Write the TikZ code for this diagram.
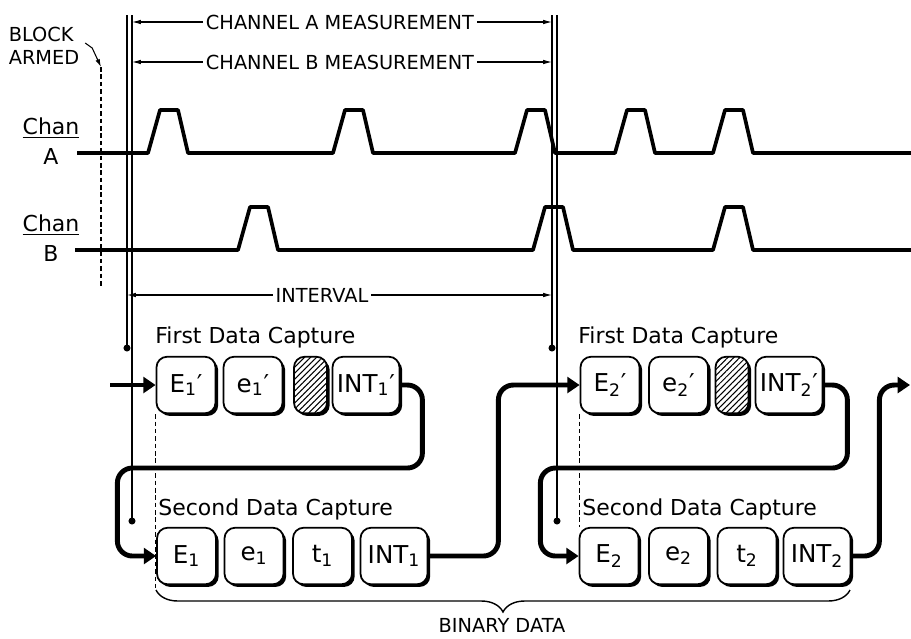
\documentclass[tikz,border=0pt]{standalone}
\usepackage{fontspec}
\setmainfont{DejaVu Sans}
\usetikzlibrary{arrows.meta,patterns.meta,shadows,decorations.pathreplacing}
\tikzset{
  keybox/.style   = {draw, line width=1pt, rounded corners=6pt, fill=white,
                     minimum width=11.8mm, minimum height=11.3mm, inner sep=0pt,
                     font=\fontsize{14}{16}\selectfont,
                     drop shadow={shadow xshift=1.5pt, shadow yshift=-1.5pt,
                                  fill=black, opacity=1}},
  intbox/.style   = {keybox, minimum width=13.4mm},
  hatchbox/.style = {keybox, minimum width=6.6mm,
                     postaction={pattern={Lines[angle=45,distance=2.4pt,line width=0.6pt]}}},
  caplbl/.style   = {font=\fontsize{12.5}{15}\selectfont, anchor=base west, inner sep=0pt},
  chanlbl/.style  = {font=\fontsize{12.5}{15}\selectfont, align=center, inner sep=0pt},
  measlbl/.style  = {font=\fontsize{11}{13}\selectfont, inner sep=1.5pt},
  signal/.style   = {line width=2.1pt, line join=round},
  flow/.style     = {line width=2.8pt, rounded corners=3mm,
                     -{Triangle[length=7pt,width=9pt]}},
  meas/.style     = {line width=0.6pt, -{Latex[length=5pt,width=2.6pt]}},
  guide/.style    = {line width=0.6pt},
  armdash/.style  = {line width=0.8pt, dash pattern=on 2.6pt off 1.6pt}
}

\begin{document}
\begin{tikzpicture}[x=0.2mm,y=-0.2mm]
  \useasboundingbox (0,0) rectangle (911,638);

  % guides of the two measurements
  \coordinate (v1) at (127,15); \coordinate (v1e) at (127,348);
  \coordinate (v2) at (132,15); \coordinate (v2e) at (132,521);
  \coordinate (v3) at (552,15); \coordinate (v3e) at (552,348);
  \coordinate (v4) at (557,15); \coordinate (v4e) at (557,521);
  \draw[guide] (v1) -- (v1e);
  \draw[guide] (v2) -- (v2e);
  \draw[guide] (v3) -- (v3e);
  \draw[guide] (v4) -- (v4e);
  \foreach \d in {v1e,v2e,v3e,v4e} \fill (\d) circle[radius=2pt];

  \node[measlbl] (chA)  at (340,22)  {CHANNEL A MEASUREMENT};
  \node[measlbl] (chB)  at (340,62)  {CHANNEL B MEASUREMENT};
  \node[measlbl] (intv) at (322,295) {INTERVAL};
  \draw[meas] (chA.west)  -- (chA.west -| v2);
  \draw[meas] (chA.east)  -- (chA.east -| v3);
  \draw[meas] (chB.west)  -- (chB.west -| v2);
  \draw[meas] (chB.east)  -- (chB.east -| v3);
  \draw[meas] (intv.west) -- (intv.west -| v1);
  \draw[meas] (intv.east) -- (intv.east -| v3);

  % block armed
  \node[measlbl, align=left, font=\fontsize{11}{13}\selectfont] (armed) at (44,46) {BLOCK\\ARMED};
  \coordinate (armtip) at (101,67);
  \coordinate (armend) at (101,288);
  \draw[line width=0.6pt, -{Latex[length=4.5pt,width=2.6pt]}]
    ([shift={(3,-3)}]armed.east) -- ++(7,5) -- (armtip);
  \draw[armdash] (armtip) -- (armend);

  % input channels
  \node[chanlbl] (chanA) at (51,141) {\underline{Chan}\\[2pt]A};
  \node[chanlbl] (chanB) at (51,238) {\underline{Chan}\\[2pt]B};
  \draw[signal] (77,153) foreach \p in {148,333,515,615,713}
    { -- (\p,153) -- ++(12,-43) -- ++(18,0) -- ++(10,43) } -- (911,153);
  \draw[signal] (75,250) foreach \p in {238,533,713}
    { -- (\p,250) -- ++(12,-43) -- ++(18,0) -- ++(10,43) } -- (911,250);

  % first block
  \node[caplbl] (cap1p) at (155,343) {First Data Capture};
  \node[keybox]   (E1p)   at (186,385)   {E\textsubscript{1}′};
  \node[keybox]   (e1p)   at (253,385)   {e\textsubscript{1}′};
  \node[hatchbox] (h1p)   at (310.5,385) {};
  \node[intbox]   (int1p) at (366,385)   {INT\textsubscript{1}′};
  \node[caplbl] (cap1) at (158,515) {Second Data Capture};
  \node[keybox]   (E1)    at (186.5,556) {E\textsubscript{1}};
  \node[keybox]   (e1)    at (254,556)   {e\textsubscript{1}};
  \node[keybox]   (t1)    at (322.5,556) {t\textsubscript{1}};
  \node[intbox]   (int1)  at (394,556)   {INT\textsubscript{1}};

  % second block
  \node[caplbl] (cap2p) at (578,343) {First Data Capture};
  \node[keybox]   (E2p)   at (610,385)   {E\textsubscript{2}′};
  \node[keybox]   (e2p)   at (678.5,385) {e\textsubscript{2}′};
  \node[hatchbox] (h2p)   at (732,385)   {};
  \node[intbox]   (int2p) at (789,385)   {INT\textsubscript{2}′};
  \node[caplbl] (cap2) at (582,515) {Second Data Capture};
  \node[keybox]   (E2)    at (609,556)   {E\textsubscript{2}};
  \node[keybox]   (e2)    at (678.5,556) {e\textsubscript{2}};
  \node[keybox]   (t2)    at (747,556)   {t\textsubscript{2}};
  \node[intbox]   (int2)  at (817,556)   {INT\textsubscript{2}};

  % data flow
  \coordinate (feed)   at (110,385);
  \coordinate (onward) at (910,385);
  \draw[flow] (feed) -- (E1p.west);
  \draw[flow] (int1p.east) -- ++(22,0) -- ++(0,83) -- ++(-305,0) |- (E1.west);
  \draw[flow] (int1.east) -- ++(70,0) |- (E2p.west);
  \draw[flow] (int2p.east) -- ++(24,0) -- ++(0,83) -- ++(-307,0) |- (E2.west);
  \draw[flow] (int2.east) -- ++(28,0) |- (onward);

  % binary data
  \coordinate (bl) at (156,590);
  \coordinate (br) at (850,590);
  \draw[armdash] (E1p.south west) -- (E1p.south west |- bl);
  \draw[armdash] (E2p.south west) -- (E2p.south west |- E2.north);
  \draw[line width=0.8pt, decorate, decoration={brace, mirror, amplitude=12.5pt}] (bl) -- (br);
  \node[measlbl] (bin) at (502,625) {BINARY DATA};
\end{tikzpicture}
\end{document}
